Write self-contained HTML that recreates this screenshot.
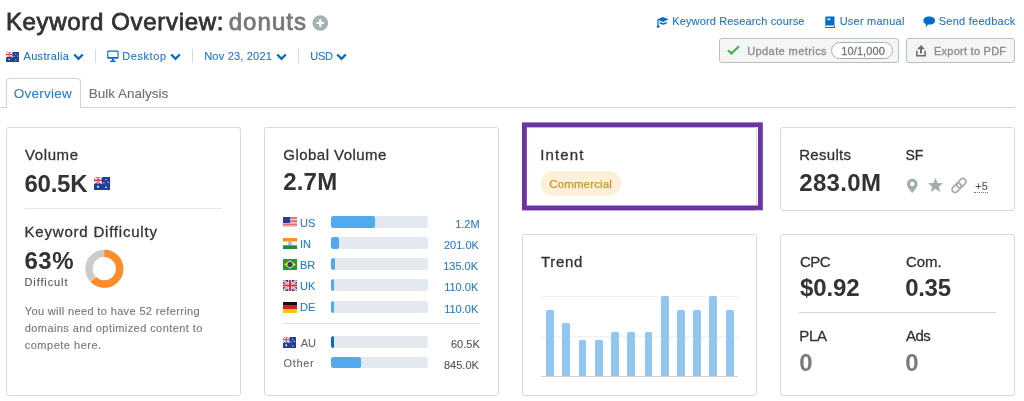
<!DOCTYPE html>
<html><head><meta charset="utf-8"><style>
html,body{margin:0;padding:0;background:#fff;width:1024px;height:401px;overflow:hidden;position:relative}
body{font-family:"Liberation Sans",sans-serif}
.t{position:absolute;white-space:nowrap}
#w{position:absolute;left:0;top:0;width:1024px;height:401px;will-change:transform}
svg{display:block}
</style></head><body>
<div id="w">
<div class="t" style="left:5.90px;top:10px;font-size:24px;line-height:24px;color:#333333;letter-spacing:0.669px;-webkit-text-stroke:0.8px #333333;">Keyword Overview:</div>
<div class="t" style="left:228.70px;top:10px;font-size:24px;line-height:24px;color:#777777;letter-spacing:1.060px;-webkit-text-stroke:0.8px #777777;">donuts</div>
<svg style="position:absolute;left:312px;top:15px;" width="17" height="17" viewBox="0 0 17 17"><circle cx="8.3" cy="8" r="7.8" fill="#a6afb2"/><path d="M8.3 4.2v7.6M4.5 8h7.6" stroke="#fff" stroke-width="2.2"/></svg>
<svg style="position:absolute;left:6px;top:52px;" width="13" height="10" viewBox="0 0 13 10"><rect width="13" height="10" fill="#22409a"/><rect width="6.5" height="5.0" fill="#2c4aa3"/><path d="M0 0L6.5 5.0M6.5 0L0 5.0" stroke="#fff" stroke-width="1.2"/><path d="M3.25 0V5.0M0 2.5H6.5" stroke="#fff" stroke-width="2.0"/><path d="M3.25 0V5.0M0 2.5H6.5" stroke="#e0313a" stroke-width="1.0"/><circle cx="3.25" cy="7.5" r="0.8" fill="#fff"/><circle cx="9.75" cy="2.0" r="0.5" fill="#fff"/><circle cx="8.06" cy="4.5" r="0.5" fill="#fff"/><circle cx="11.44" cy="4.0" r="0.5" fill="#fff"/><circle cx="9.75" cy="8.0" r="0.6" fill="#fff"/></svg>
<div class="t" style="left:23.50px;top:51px;font-size:11px;line-height:11px;color:#1b75c8;letter-spacing:0.325px;-webkit-text-stroke:0.1px #1b75c8;">Australia</div>
<svg style="position:absolute;left:72.5px;top:53px;" width="11" height="8" viewBox="0 0 11 8"><path d="M1.2 1.5L5.5 5.8L9.8 1.5" fill="none" stroke="#006dca" stroke-width="2.3"/></svg>
<div style="position:absolute;left:95px;top:49px;width:1px;height:14px;background:#d6d6d6"></div>
<svg style="position:absolute;left:107px;top:50px;" width="13" height="13" viewBox="0 0 13 13"><path d="M1.2 0.5H10.6A1 1 0 0 1 11.6 1.5V7.8A1 1 0 0 1 10.6 8.8H1.2A1 1 0 0 1 0.2 7.8V1.5A1 1 0 0 1 1.2 0.5ZM1.3 1.7V7.1H10.5V1.7Z" fill="#006dca" fill-rule="evenodd"/><rect x="4.9" y="8.6" width="2" height="2.2" fill="#006dca"/><rect x="3" y="10.6" width="5.8" height="1.4" rx="0.7" fill="#006dca"/></svg>
<div class="t" style="left:122.20px;top:51px;font-size:11px;line-height:11px;color:#1b75c8;letter-spacing:0.593px;-webkit-text-stroke:0.1px #1b75c8;">Desktop</div>
<svg style="position:absolute;left:170.2px;top:53px;" width="11" height="8" viewBox="0 0 11 8"><path d="M1.2 1.5L5.5 5.8L9.8 1.5" fill="none" stroke="#006dca" stroke-width="2.3"/></svg>
<div style="position:absolute;left:192px;top:49px;width:1px;height:14px;background:#d6d6d6"></div>
<div class="t" style="left:204.20px;top:51px;font-size:11px;line-height:11px;color:#1b75c8;letter-spacing:0.205px;-webkit-text-stroke:0.1px #1b75c8;">Nov 23, 2021</div>
<svg style="position:absolute;left:276.2px;top:53px;" width="11" height="8" viewBox="0 0 11 8"><path d="M1.2 1.5L5.5 5.8L9.8 1.5" fill="none" stroke="#006dca" stroke-width="2.3"/></svg>
<div style="position:absolute;left:298px;top:49px;width:1px;height:14px;background:#d6d6d6"></div>
<div class="t" style="left:310.20px;top:51px;font-size:11px;line-height:11px;color:#1b75c8;letter-spacing:-0.210px;-webkit-text-stroke:0.1px #1b75c8;">USD</div>
<svg style="position:absolute;left:336.3px;top:53px;" width="11" height="8" viewBox="0 0 11 8"><path d="M1.2 1.5L5.5 5.8L9.8 1.5" fill="none" stroke="#006dca" stroke-width="2.3"/></svg>
<svg style="position:absolute;left:656px;top:16px;" width="14" height="13" viewBox="0 0 14 13"><path d="M1.2 3.4L6.6 0.9L12.6 3.2L7 5.9Z" fill="#006dca"/><path d="M3.9 6.6Q7.2 9.2 10.6 6.3" fill="none" stroke="#006dca" stroke-width="1.7"/><path d="M2 3.6V9.8" stroke="#006dca" stroke-width="1.2"/><circle cx="2.2" cy="10.6" r="1.4" fill="#006dca"/></svg>
<div class="t" style="left:672.20px;top:16px;font-size:11px;line-height:11px;color:#1b75c8;letter-spacing:0.150px;-webkit-text-stroke:0.1px #1b75c8;">Keyword Research course</div>
<svg style="position:absolute;left:824px;top:16px;" width="12" height="12" viewBox="0 0 12 12"><path d="M1.3 1.6C1.3 0.9 1.8 0.4 2.5 0.4H10.5V9.6H2.6C1.9 9.6 1.3 10.1 1.3 10.7Z" fill="#006dca"/><path d="M1.3 10.7C1.3 11.3 1.9 11.6 2.6 11.6H10.5V9.8" fill="none" stroke="#006dca" stroke-width="1.1"/><rect x="3.2" y="2.3" width="3.2" height="2" fill="#fff" opacity="0.75"/></svg>
<div class="t" style="left:839.70px;top:16px;font-size:11px;line-height:11px;color:#1b75c8;letter-spacing:0.230px;-webkit-text-stroke:0.1px #1b75c8;">User manual</div>
<svg style="position:absolute;left:922px;top:15px;" width="14" height="14" viewBox="0 0 14 14"><path d="M7.2 1.4C10.7 1.4 13 3 13 5.4C13 7.8 10.7 9.6 7.2 9.6C6.7 9.6 6.3 9.6 5.9 9.5L3.6 12.4L3.9 9.1C2.3 8.4 1.4 7 1.4 5.4C1.4 3 3.8 1.4 7.2 1.4Z" fill="#006dca"/></svg>
<div class="t" style="left:938.70px;top:16px;font-size:11px;line-height:11px;color:#1b75c8;letter-spacing:0.258px;-webkit-text-stroke:0.1px #1b75c8;">Send feedback</div>
<div style="position:absolute;left:719px;top:38px;width:178px;height:23px;border:1px solid #b9bfc3;border-radius:3px;background:#f4f5f5"></div>
<svg style="position:absolute;left:727px;top:45px;" width="13" height="10" viewBox="0 0 13 10"><path d="M1 5.2L4.5 8.6L12 1.3" fill="none" stroke="#47b347" stroke-width="2.2"/></svg>
<div class="t" style="left:747.20px;top:46px;font-size:11px;line-height:11px;color:#8a8a8a;letter-spacing:0.415px;-webkit-text-stroke:0.3px #8a8a8a;">Update metrics</div>
<div style="position:absolute;left:831px;top:42px;width:60px;height:15px;border:1px solid #a9b0b5;border-radius:9px;background:#fff"></div>
<div class="t" style="left:841.30px;top:46px;font-size:11px;line-height:11px;color:#777777;letter-spacing:0.100px;-webkit-text-stroke:0.3px #777777;">10/1,000</div>
<div style="position:absolute;left:906px;top:38px;width:107px;height:23px;border:1px solid #b9bfc3;border-radius:3px;background:#f4f5f5"></div>
<svg style="position:absolute;left:915px;top:44px;" width="12" height="13" viewBox="0 0 12 13"><path d="M6 1L10 5.2H2Z" fill="#6f6f6f"/><rect x="5" y="5" width="2" height="4.4" fill="#6f6f6f"/><path d="M1.8 6.7V11.7H10.1V6.7" fill="none" stroke="#6f6f6f" stroke-width="1.6"/></svg>
<div class="t" style="left:933.96px;top:46px;font-size:11px;line-height:11px;color:#8a8a8a;letter-spacing:0.253px;-webkit-text-stroke:0.3px #8a8a8a;">Export to PDF</div>
<div style="position:absolute;left:0px;top:107px;width:1015px;height:1px;background:#d3d3d3"></div>
<div style="position:absolute;left:6px;top:78px;width:73px;height:29px;border:1px solid #d3d3d3;border-bottom:none;border-radius:4px 4px 0 0;background:#fff"></div>
<div class="t" style="left:13.70px;top:86.5px;font-size:13.5px;line-height:13.5px;color:#2d7fc6;letter-spacing:0.271px;-webkit-text-stroke:0.1px #2d7fc6;">Overview</div>
<div class="t" style="left:88.70px;top:86.5px;font-size:13.5px;line-height:13.5px;color:#6e6e6e;letter-spacing:0.008px;-webkit-text-stroke:0.1px #6e6e6e;">Bulk Analysis</div>
<div style="position:absolute;left:6px;top:127px;width:233px;height:267px;border:1px solid #d9d9d9;border-radius:3px;background:#fff"></div>
<div style="position:absolute;left:264px;top:127px;width:233px;height:267px;border:1px solid #d9d9d9;border-radius:3px;background:#fff"></div>
<div style="position:absolute;left:522px;top:127px;width:233px;height:82px;border:1px solid #d9d9d9;border-radius:3px;background:#fff"></div>
<div style="position:absolute;left:780px;top:127px;width:233px;height:82px;border:1px solid #d9d9d9;border-radius:3px;background:#fff"></div>
<div style="position:absolute;left:522px;top:234px;width:233px;height:160px;border:1px solid #d9d9d9;border-radius:3px;background:#fff"></div>
<div style="position:absolute;left:780px;top:234px;width:233px;height:160px;border:1px solid #d9d9d9;border-radius:3px;background:#fff"></div>
<div class="t" style="left:25.00px;top:146.5px;font-size:15px;line-height:15px;color:#333333;letter-spacing:0.600px;-webkit-text-stroke:0.3px #333333;">Volume</div>
<div class="t" style="left:24.44px;top:171.5px;font-size:24px;line-height:24px;color:#333333;font-weight:bold;letter-spacing:-0.247px;">60.5K</div>
<svg style="position:absolute;left:94px;top:177px;" width="16" height="13" viewBox="0 0 16 13"><rect width="16" height="13" fill="#22409a"/><rect width="8.0" height="6.5" fill="#2c4aa3"/><path d="M0 0L8.0 6.5M8.0 0L0 6.5" stroke="#fff" stroke-width="1.56"/><path d="M4.0 0V6.5M0 3.25H8.0" stroke="#fff" stroke-width="2.6"/><path d="M4.0 0V6.5M0 3.25H8.0" stroke="#e0313a" stroke-width="1.3"/><circle cx="4.0" cy="9.75" r="1.04" fill="#fff"/><circle cx="12.0" cy="2.6" r="0.65" fill="#fff"/><circle cx="9.92" cy="5.8500000000000005" r="0.65" fill="#fff"/><circle cx="14.08" cy="5.2" r="0.65" fill="#fff"/><circle cx="12.0" cy="10.4" r="0.78" fill="#fff"/></svg>
<div style="position:absolute;left:25px;top:208px;width:197px;height:1px;background:#e3e6ea"></div>
<div class="t" style="left:24.55px;top:224.25px;font-size:15px;line-height:15px;color:#333333;letter-spacing:0.790px;-webkit-text-stroke:0.3px #333333;">Keyword Difficulty</div>
<div class="t" style="left:24.44px;top:248.5px;font-size:24px;line-height:24px;color:#333333;font-weight:bold;letter-spacing:0.550px;">63%</div>
<div class="t" style="left:24.44px;top:276.6px;font-size:11px;line-height:11px;color:#555555;letter-spacing:0.901px;-webkit-text-stroke:0.1px #555555;">Difficult</div>
<svg style="position:absolute;left:84px;top:248px;" width="41" height="41" viewBox="0 0 41 41"><circle cx="20.299999999999997" cy="20.69999999999999" r="15.35" fill="none" stroke="#cccccc" stroke-width="7.4"/><circle cx="20.299999999999997" cy="20.69999999999999" r="15.35" fill="none" stroke="#ff8b29" stroke-width="7.4" stroke-dasharray="60.76 96.45" transform="rotate(-90 20.299999999999997 20.69999999999999)"/><path d="M12.17 28.33L6.05 34.08" stroke="#fff" stroke-width="0.8"/></svg>
<div class="t" style="left:24.72px;top:305.75px;font-size:11px;line-height:11px;color:#7a7a7a;letter-spacing:0.366px;-webkit-text-stroke:0.15px #7a7a7a;">You will need to have 52 referring</div>
<div class="t" style="left:24.72px;top:322.75px;font-size:11px;line-height:11px;color:#7a7a7a;letter-spacing:0.422px;-webkit-text-stroke:0.15px #7a7a7a;">domains and optimized content to</div>
<div class="t" style="left:24.72px;top:340px;font-size:11px;line-height:11px;color:#7a7a7a;letter-spacing:0.507px;-webkit-text-stroke:0.15px #7a7a7a;">compete here.</div>
<div class="t" style="left:283.35px;top:147px;font-size:15px;line-height:15px;color:#333333;letter-spacing:0.454px;-webkit-text-stroke:0.3px #333333;">Global Volume</div>
<div class="t" style="left:283.20px;top:169.5px;font-size:24px;line-height:24px;color:#333333;font-weight:bold;letter-spacing:0.200px;">2.7M</div>
<svg style="position:absolute;left:283px;top:217px;" width="14" height="11" viewBox="0 0 14 11"><rect width="14" height="11" fill="#fff"/><rect y="0.00" width="14" height="0.71" fill="#d22f3a"/><rect y="1.43" width="14" height="0.71" fill="#d22f3a"/><rect y="2.86" width="14" height="0.71" fill="#d22f3a"/><rect y="4.29" width="14" height="0.71" fill="#d22f3a"/><rect y="5.71" width="14" height="0.71" fill="#d22f3a"/><rect y="7.14" width="14" height="0.71" fill="#d22f3a"/><rect y="8.57" width="14" height="0.71" fill="#d22f3a"/><rect width="7" height="6" fill="#2f3a8f"/></svg>
<div class="t" style="left:299.96px;top:217.8px;font-size:11px;line-height:11px;color:#2a7cc4;letter-spacing:0.000px;-webkit-text-stroke:0.1px #2a7cc4;">US</div>
<div style="position:absolute;left:331px;top:216px;width:97px;height:12px;background:#e3e9ef;border-radius:2px;overflow:hidden"><div style="width:44px;height:12px;background:#52a9f0;border-radius:2px"></div></div>
<div class="t" style="left:455.20px;top:219px;font-size:11px;line-height:11px;color:#2a7cc4;letter-spacing:0.000px;-webkit-text-stroke:0.1px #2a7cc4;">1.2M</div>
<svg style="position:absolute;left:283px;top:238px;" width="14" height="11" viewBox="0 0 14 11"><rect width="14" height="3.7" fill="#f7931e"/><rect y="3.7" width="14" height="3.6" fill="#fff"/><rect y="7.3" width="14" height="3.7" fill="#208a3a"/><circle cx="7" cy="5.5" r="1.4" fill="none" stroke="#2a3990" stroke-width="0.6"/></svg>
<div class="t" style="left:299.96px;top:238.8px;font-size:11px;line-height:11px;color:#2a7cc4;letter-spacing:0.000px;-webkit-text-stroke:0.1px #2a7cc4;">IN</div>
<div style="position:absolute;left:331px;top:237px;width:97px;height:12px;background:#e3e9ef;border-radius:2px;overflow:hidden"><div style="width:7.5px;height:12px;background:#52a9f0;border-radius:2px"></div></div>
<div class="t" style="left:444.00px;top:240px;font-size:11px;line-height:11px;color:#2a7cc4;letter-spacing:0.000px;-webkit-text-stroke:0.1px #2a7cc4;">201.0K</div>
<svg style="position:absolute;left:283px;top:259px;" width="14" height="11" viewBox="0 0 14 11"><rect width="14" height="11" fill="#1f9a3a"/><path d="M7 1.2L13 5.5L7 9.8L1 5.5Z" fill="#f6d21a"/><circle cx="7" cy="5.5" r="2.5" fill="#263b8f"/></svg>
<div class="t" style="left:299.96px;top:259.8px;font-size:11px;line-height:11px;color:#2a7cc4;letter-spacing:0.000px;-webkit-text-stroke:0.1px #2a7cc4;">BR</div>
<div style="position:absolute;left:331px;top:258px;width:97px;height:12px;background:#e3e9ef;border-radius:2px;overflow:hidden"><div style="width:3.5px;height:12px;background:#52a9f0;border-radius:2px"></div></div>
<div class="t" style="left:443.20px;top:261px;font-size:11px;line-height:11px;color:#2a7cc4;letter-spacing:0.000px;-webkit-text-stroke:0.1px #2a7cc4;">135.0K</div>
<svg style="position:absolute;left:283px;top:280px;" width="14" height="11" viewBox="0 0 14 11"><rect width="14" height="11" fill="#263b8f"/><path d="M0 0L14 11M14 0L0 11" stroke="#fff" stroke-width="2.2"/><path d="M0 0L14 11M14 0L0 11" stroke="#d22f3a" stroke-width="0.8"/><path d="M7 0V11M0 5.5H14" stroke="#fff" stroke-width="3.4"/><path d="M7 0V11M0 5.5H14" stroke="#d22f3a" stroke-width="2"/></svg>
<div class="t" style="left:299.96px;top:280.8px;font-size:11px;line-height:11px;color:#2a7cc4;letter-spacing:0.000px;-webkit-text-stroke:0.1px #2a7cc4;">UK</div>
<div style="position:absolute;left:331px;top:279px;width:97px;height:12px;background:#e3e9ef;border-radius:2px;overflow:hidden"><div style="width:3px;height:12px;background:#52a9f0;border-radius:2px"></div></div>
<div class="t" style="left:444.20px;top:282px;font-size:11px;line-height:11px;color:#2a7cc4;letter-spacing:0.000px;-webkit-text-stroke:0.1px #2a7cc4;">110.0K</div>
<svg style="position:absolute;left:283px;top:301.5px;" width="14" height="11" viewBox="0 0 14 11"><rect width="14" height="3.7" fill="#111"/><rect y="3.7" width="14" height="3.6" fill="#dd1d1d"/><rect y="7.3" width="14" height="3.7" fill="#fcc40a"/></svg>
<div class="t" style="left:299.96px;top:302.3px;font-size:11px;line-height:11px;color:#2a7cc4;letter-spacing:0.000px;-webkit-text-stroke:0.1px #2a7cc4;">DE</div>
<div style="position:absolute;left:331px;top:300.5px;width:97px;height:12px;background:#e3e9ef;border-radius:2px;overflow:hidden"><div style="width:3px;height:12px;background:#52a9f0;border-radius:2px"></div></div>
<div class="t" style="left:444.20px;top:303.5px;font-size:11px;line-height:11px;color:#2a7cc4;letter-spacing:0.000px;-webkit-text-stroke:0.1px #2a7cc4;">110.0K</div>
<div style="position:absolute;left:283px;top:323px;width:197px;height:1px;background:#dcdcdc"></div>
<svg style="position:absolute;left:283px;top:337px;" width="13" height="11" viewBox="0 0 13 11"><rect width="13" height="11" fill="#22409a"/><rect width="6.5" height="5.5" fill="#2c4aa3"/><path d="M0 0L6.5 5.5M6.5 0L0 5.5" stroke="#fff" stroke-width="1.3199999999999998"/><path d="M3.25 0V5.5M0 2.75H6.5" stroke="#fff" stroke-width="2.2"/><path d="M3.25 0V5.5M0 2.75H6.5" stroke="#e0313a" stroke-width="1.1"/><circle cx="3.25" cy="8.25" r="0.88" fill="#fff"/><circle cx="9.75" cy="2.2" r="0.55" fill="#fff"/><circle cx="8.06" cy="4.95" r="0.55" fill="#fff"/><circle cx="11.44" cy="4.4" r="0.55" fill="#fff"/><circle cx="9.75" cy="8.8" r="0.6599999999999999" fill="#fff"/></svg>
<div class="t" style="left:300.76px;top:337.5px;font-size:11px;line-height:11px;color:#666666;letter-spacing:0.000px;-webkit-text-stroke:0.1px #666666;">AU</div>
<div style="position:absolute;left:331px;top:336px;width:97px;height:12px;background:#e3e9ef;border-radius:2px;overflow:hidden"><div style="width:3px;height:12px;background:#0a6bc6;border-radius:2px"></div></div>
<div class="t" style="left:451.00px;top:339px;font-size:11px;line-height:11px;color:#555555;letter-spacing:0.000px;-webkit-text-stroke:0.1px #555555;">60.5K</div>
<div class="t" style="left:283.50px;top:358px;font-size:11px;line-height:11px;color:#666666;letter-spacing:0.662px;-webkit-text-stroke:0.1px #666666;">Other</div>
<div style="position:absolute;left:331px;top:357px;width:97px;height:11px;background:#e3e9ef;border-radius:2px;overflow:hidden"><div style="width:30px;height:11px;background:#52a9f0;border-radius:2px"></div></div>
<div class="t" style="left:444.00px;top:359.5px;font-size:11px;line-height:11px;color:#555555;letter-spacing:0.000px;-webkit-text-stroke:0.1px #555555;">845.0K</div>
<div class="t" style="left:540.20px;top:147px;font-size:15px;line-height:15px;color:#333333;letter-spacing:1.160px;-webkit-text-stroke:0.3px #333333;">Intent</div>
<div style="position:absolute;left:541px;top:171px;width:80px;height:25px;border-radius:13px;background:#fcf0d9"></div>
<div class="t" style="left:549.20px;top:179px;font-size:11.5px;line-height:11.5px;color:#c6982c;letter-spacing:0.144px;-webkit-text-stroke:0.25px #c6982c;">Commercial</div>
<svg style="position:absolute;left:520px;top:120px;" width="246" height="94" viewBox="0 0 246 94"><rect x="4.4" y="4.8" width="236" height="83.1" fill="none" stroke="#6b33a3" stroke-width="4.8"/></svg>
<div class="t" style="left:799.20px;top:147px;font-size:15px;line-height:15px;color:#333333;letter-spacing:0.300px;-webkit-text-stroke:0.3px #333333;">Results</div>
<div class="t" style="left:799.20px;top:170.75px;font-size:24px;line-height:24px;color:#333333;font-weight:bold;letter-spacing:0.350px;">283.0M</div>
<div class="t" style="left:905.50px;top:148px;font-size:14px;line-height:14px;color:#333333;letter-spacing:0.000px;-webkit-text-stroke:0.3px #333333;">SF</div>
<svg style="position:absolute;left:906px;top:178px;" width="13" height="16" viewBox="0 0 13 16"><path d="M6.3 0.8C3.3 0.8 1 3.1 1 6C1 9.6 6.3 15 6.3 15S11.6 9.6 11.6 6C11.6 3.1 9.3 0.8 6.3 0.8ZM6.3 3.7A2.2 2.2 0 1 1 6.3 8.1A2.2 2.2 0 1 1 6.3 3.7Z" fill="#a3adb0" fill-rule="evenodd"/></svg>
<svg style="position:absolute;left:927px;top:177px;" width="17" height="16" viewBox="0 0 17 16"><path d="M8.5 1L10.6 6L16 6.3L11.8 9.7L13.2 15L8.5 12L3.8 15L5.2 9.7L1 6.3L6.4 6Z" fill="#a3adb0"/></svg>
<svg style="position:absolute;left:949px;top:176px;" width="20" height="19" viewBox="0 0 20 19"><g fill="none" stroke="#a3adb0" stroke-width="1.7" transform="rotate(-45 10 9.5)"><rect x="1.4" y="6.5" width="10.5" height="6" rx="3"/><rect x="8.1" y="6.5" width="10.5" height="6" rx="3"/></g></svg>
<div class="t" style="left:975.30px;top:181px;font-size:11px;line-height:11px;color:#555555;letter-spacing:0.000px;-webkit-text-stroke:0.1px #555555;">+5</div>
<div style="position:absolute;left:974px;top:192px;width:14px;height:0;border-top:1px dotted #777"></div>
<div class="t" style="left:541.00px;top:254px;font-size:15px;line-height:15px;color:#333333;letter-spacing:0.700px;-webkit-text-stroke:0.3px #333333;">Trend</div>
<div style="position:absolute;left:541px;top:296px;width:197px;height:1px;background:#eef0f2"></div>
<div style="position:absolute;left:541px;top:336px;width:197px;height:1px;background:#eef0f2"></div>
<div style="position:absolute;left:541px;top:376px;width:197px;height:1px;background:#cfd3d6"></div>
<div style="position:absolute;left:546.00px;top:310px;width:7.5px;height:66px;background:#90c6ef;border-radius:1.5px 1.5px 0 0"></div>
<div style="position:absolute;left:562.25px;top:322.5px;width:7.5px;height:53.5px;background:#90c6ef;border-radius:1.5px 1.5px 0 0"></div>
<div style="position:absolute;left:578.75px;top:340px;width:7.5px;height:36px;background:#90c6ef;border-radius:1.5px 1.5px 0 0"></div>
<div style="position:absolute;left:595.00px;top:340px;width:7.5px;height:36px;background:#90c6ef;border-radius:1.5px 1.5px 0 0"></div>
<div style="position:absolute;left:611.25px;top:332px;width:7.5px;height:44px;background:#90c6ef;border-radius:1.5px 1.5px 0 0"></div>
<div style="position:absolute;left:627.25px;top:332px;width:7.5px;height:44px;background:#90c6ef;border-radius:1.5px 1.5px 0 0"></div>
<div style="position:absolute;left:644.50px;top:332px;width:7.5px;height:44px;background:#90c6ef;border-radius:1.5px 1.5px 0 0"></div>
<div style="position:absolute;left:661.00px;top:296px;width:7.5px;height:80px;background:#90c6ef;border-radius:1.5px 1.5px 0 0"></div>
<div style="position:absolute;left:677.25px;top:310px;width:7.5px;height:66px;background:#90c6ef;border-radius:1.5px 1.5px 0 0"></div>
<div style="position:absolute;left:693.10px;top:310px;width:7.5px;height:66px;background:#90c6ef;border-radius:1.5px 1.5px 0 0"></div>
<div style="position:absolute;left:709.40px;top:296px;width:7.5px;height:80px;background:#90c6ef;border-radius:1.5px 1.5px 0 0"></div>
<div style="position:absolute;left:726.00px;top:310px;width:7.5px;height:66px;background:#90c6ef;border-radius:1.5px 1.5px 0 0"></div>
<div class="t" style="left:800.00px;top:254.39999999999998px;font-size:15px;line-height:15px;color:#333333;letter-spacing:-0.600px;-webkit-text-stroke:0.3px #333333;">CPC</div>
<div class="t" style="left:906.00px;top:254.39999999999998px;font-size:15px;line-height:15px;color:#333333;letter-spacing:-0.067px;-webkit-text-stroke:0.3px #333333;">Com.</div>
<div class="t" style="left:800.00px;top:276px;font-size:24px;line-height:24px;color:#333333;font-weight:bold;letter-spacing:-0.110px;">$0.92</div>
<div class="t" style="left:905.20px;top:276px;font-size:24px;line-height:24px;color:#333333;font-weight:bold;letter-spacing:-0.293px;">0.35</div>
<div style="position:absolute;left:799px;top:312px;width:197px;height:1px;background:#d6d6d6"></div>
<div class="t" style="left:799.20px;top:328.4px;font-size:15px;line-height:15px;color:#333333;letter-spacing:-0.250px;-webkit-text-stroke:0.3px #333333;">PLA</div>
<div class="t" style="left:906.00px;top:328.4px;font-size:15px;line-height:15px;color:#333333;letter-spacing:-0.500px;-webkit-text-stroke:0.3px #333333;">Ads</div>
<div class="t" style="left:799.20px;top:351.4px;font-size:24px;line-height:24px;color:#7a7a7a;font-weight:bold;letter-spacing:0.000px;">0</div>
<div class="t" style="left:905.20px;top:351.4px;font-size:24px;line-height:24px;color:#7a7a7a;font-weight:bold;letter-spacing:0.000px;">0</div>
</div>
</body></html>
